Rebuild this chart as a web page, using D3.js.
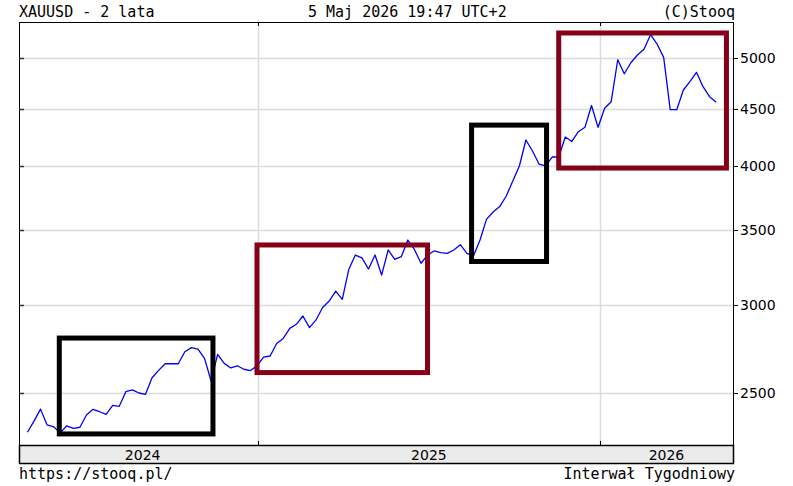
<!DOCTYPE html>
<html>
<head>
<meta charset="utf-8">
<script src="https://cdn.jsdelivr.net/npm/d3@7"></script>
<style>
  body { margin: 0; background: #fff; }
  svg { display: block; }
</style>
</head>
<body>
<div id="chart"></div>
<script>
// weekly closes, XAUUSD, one value per week (Tuesdays) from 2024-04-30 to 2026-05-05
var firstWeek = new Date(2024, 3, 30);
var lastWeek = new Date(2026, 4, 5);
var prices = [
  2305, 2359, 2418, 2340, 2331, 2302, 2336, 2324, 2329, 2389,
  2417, 2405, 2392, 2437, 2432, 2507, 2516, 2500, 2493, 2580,
  2620, 2656, 2656, 2656, 2723, 2746, 2738, 2686, 2563, 2708,
  2658, 2633, 2645, 2626, 2619, 2644, 2693, 2699, 2770, 2799,
  2858, 2882, 2932, 2862, 2908, 2984, 3024, 3087, 3035, 3229,
  3326, 3307, 3231, 3326, 3191, 3361, 3297, 3315, 3431, 3365,
  3270, 3326, 3354, 3343, 3337, 3361, 3398, 3338, 3319, 3431,
  3583, 3636, 3677, 3758, 3876, 3999, 4220, 4125, 4015, 3999,
  4074, 4074, 4246, 4207, 4293, 4332, 4532, 4332, 4506, 4568,
  4982, 4840, 4951, 5031, 5091, 5247, 5147, 5007, 4493, 4493,
  4680, 4761, 4854, 4712, 4616, 4562
];

var yTicks = [2500, 3000, 3500, 4000, 4500, 5000];
var years = [2024, 2025, 2026];

// highlight boxes: start, end, low, high
var boxStart = ["2024-06-03", "2024-12-31", "2025-08-17", "2025-11-18"];
var boxEnd   = ["2024-11-14", "2025-07-01", "2025-11-05", "2026-05-16"];
var boxLow   = [2297, 2608, 3282, 3982];
var boxHigh  = [2801, 3396, 4352, 5266];
var boxColor = ["#000000", "#860019", "#000000", "#860019"];

var titleLeft = "XAUUSD - 2 lata";
var titleMid = "5 Maj 2026 19:47 UTC+2";
var titleRight = "(C)Stooq";
var footLeft = "https://stooq.pl/";
var footRight = "Interwał Tygodniowy";

var W = 793, H = 486;
var L = 19, R = 733, T = 22, B = 445, bandB = 463;
var mono = "'DejaVu Sans Mono', monospace";
var sans = "'DejaVu Sans', sans-serif";

var parse = d3.timeParse("%Y-%m-%d");
var weeks = d3.timeTuesday.range(firstWeek, d3.timeDay.offset(lastWeek, 1));
var data = weeks.map(function(d, i) { return { date: d, value: prices[i] }; });

var x = d3.scaleTime()
  .domain([new Date(2024, 3, 21), new Date(2026, 4, 23)])
  .range([L, R]);
var y = d3.scaleLog()
  .domain([2245, 5387])
  .range([B, T]);

var svg = d3.select("#chart").append("svg")
  .attr("width", W)
  .attr("height", H);

// header
svg.append("text").attr("x", L).attr("y", 17).text(titleLeft)
  .style("font-family", mono).style("font-size", "15px");
svg.append("text").attr("x", 308).attr("y", 17).text(titleMid)
  .style("font-family", mono).style("font-size", "15px");
svg.append("text").attr("x", R + 2).attr("y", 17).attr("text-anchor", "end").text(titleRight)
  .style("font-family", mono).style("font-size", "15px");

// grid
var yearStarts = years.slice(1).map(function(yr) { return new Date(yr, 0, 1); });

svg.selectAll(".hgrid").data(yTicks).enter().append("line")
  .attr("x1", L).attr("x2", R)
  .attr("y1", function(d) { return Math.round(y(d)) + 0.5; })
  .attr("y2", function(d) { return Math.round(y(d)) + 0.5; })
  .style("stroke", "#dcdcdc").style("stroke-width", 1.5);

svg.selectAll(".vgrid").data(yearStarts).enter().append("line")
  .attr("x1", function(d) { return Math.round(x(d)) + 0.5; })
  .attr("x2", function(d) { return Math.round(x(d)) + 0.5; })
  .attr("y1", T).attr("y2", B)
  .style("stroke", "#dcdcdc").style("stroke-width", 1.5);

// price line
var line = d3.line()
  .x(function(d) { return x(d.date); })
  .y(function(d) { return y(d.value); });

svg.append("path")
  .datum(data)
  .attr("d", line)
  .style("fill", "none")
  .style("stroke", "#0000ff")
  .style("stroke-width", 1.3)
  .style("stroke-linejoin", "round");

// boxes
svg.selectAll(".box").data(boxStart).enter().append("rect")
  .attr("x", function(d) { return x(parse(d)); })
  .attr("y", function(d, i) { return y(boxHigh[i]); })
  .attr("width", function(d, i) { return x(parse(boxEnd[i])) - x(parse(d)); })
  .attr("height", function(d, i) { return y(boxLow[i]) - y(boxHigh[i]); })
  .style("fill", "none")
  .style("stroke", function(d, i) { return boxColor[i]; })
  .style("stroke-width", 5);

// frame
svg.append("rect")
  .attr("x", L + 0.5).attr("y", T + 0.5)
  .attr("width", R - L).attr("height", bandB - T)
  .style("fill", "none").style("stroke", "#000").style("stroke-width", 1);

// x band
svg.append("rect")
  .attr("x", L + 0.5).attr("y", B + 0.5)
  .attr("width", R - L).attr("height", bandB - B)
  .style("fill", "#ebebeb").style("stroke", "#000").style("stroke-width", 1.5);

// y ticks, right side outward, left side inward
svg.selectAll(".rtick").data(yTicks).enter().append("line")
  .attr("x1", R).attr("x2", R + 5)
  .attr("y1", function(d) { return Math.round(y(d)) + 0.5; })
  .attr("y2", function(d) { return Math.round(y(d)) + 0.5; })
  .style("stroke", "#000");
svg.selectAll(".ltick").data(yTicks).enter().append("line")
  .attr("x1", L).attr("x2", L + 5)
  .attr("y1", function(d) { return Math.round(y(d)) + 0.5; })
  .attr("y2", function(d) { return Math.round(y(d)) + 0.5; })
  .style("stroke", "#333").style("stroke-width", 1.5);

svg.selectAll(".ylab").data(yTicks).enter().append("text")
  .attr("x", R + 7)
  .attr("y", function(d) { return y(d); })
  .attr("dy", "0.36em")
  .text(function(d) { return d; })
  .style("font-family", sans).style("font-size", "14px");

// x ticks at year boundaries
svg.selectAll(".ttick").data(yearStarts).enter().append("line")
  .attr("x1", function(d) { return Math.round(x(d)) + 0.5; })
  .attr("x2", function(d) { return Math.round(x(d)) + 0.5; })
  .attr("y1", T).attr("y2", T + 4)
  .style("stroke", "#000");
svg.selectAll(".btick").data(yearStarts).enter().append("line")
  .attr("x1", function(d) { return Math.round(x(d)) + 0.5; })
  .attr("x2", function(d) { return Math.round(x(d)) + 0.5; })
  .attr("y1", B - 4).attr("y2", B)
  .style("stroke", "#000");

// year labels centred on the span each year covers in the chart
var dom = x.domain();
svg.selectAll(".xlab").data(years).enter().append("text")
  .attr("x", function(yr) {
    var a = d3.max([firstWeek, new Date(yr, 0, 1)]);
    var b = d3.min([dom[1], new Date(yr + 1, 0, 1)]);
    return (x(a) + x(b)) / 2;
  })
  .attr("y", (B + bandB) / 2 + 0.5)
  .attr("dy", "0.36em")
  .attr("text-anchor", "middle")
  .text(function(d) { return d; })
  .style("font-family", sans).style("font-size", "14px");

// footer
svg.append("text").attr("x", L).attr("y", 479).text(footLeft)
  .style("font-family", mono).style("font-size", "15px");
svg.append("text").attr("x", R + 2).attr("y", 479).attr("text-anchor", "end").text(footRight)
  .style("font-family", mono).style("font-size", "15px");
</script>
</body>
</html>
